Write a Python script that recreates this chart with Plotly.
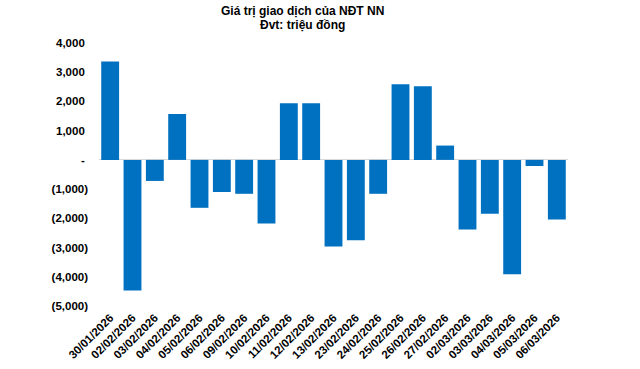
import plotly.graph_objects as go

dates = ["30/01/2026", "02/02/2026", "03/02/2026", "04/02/2026", "05/02/2026",
         "06/02/2026", "09/02/2026", "10/02/2026", "11/02/2026", "12/02/2026",
         "13/02/2026", "23/02/2026", "24/02/2026", "25/02/2026", "26/02/2026",
         "27/02/2026", "02/03/2026", "03/03/2026", "04/03/2026", "05/03/2026",
         "06/03/2026"]
values = [3370, -4470, -720, 1570, -1640, -1100, -1160, -2180, 1940, 1940,
          -2960, -2750, -1160, 2590, 2520, 490, -2380, -1840, -3910, -210, -2040]

tick_vals = [4000, 3000, 2000, 1000, 0, -1000, -2000, -3000, -4000, -5000]
tick_text = ["4,000 ", "3,000 ", "2,000 ", "1,000 ", "- ", "(1,000)", "(2,000)",
             "(3,000)", "(4,000)", "(5,000)"]

title_lines = ["Giá trị giao dịch của NĐT NN", "Đvt: triệu đồng"]

font_family = "Arial, Liberation Sans, sans-serif"

fig = go.Figure(go.Bar(x=dates, y=values, marker_color="#0070C0",
                       marker_line_width=0))

ML, MR, MT, MB = 99, 72, 43, 63
W, H = 640, 369
ph = H - MT - MB
pw = W - ML - MR

def py(pix):
    return (H - MB - pix) / ph

def px(pix):
    return (pix - ML) / pw

fig.update_layout(
    width=W, height=H,
    margin=dict(l=ML, r=MR, t=MT, b=MB),
    paper_bgcolor="white", plot_bgcolor="white",
    bargap=0.2,
    showlegend=False,
)
for txt, ypix in zip(title_lines, [11, 25]):
    fig.add_annotation(text=txt, xref="paper", yref="paper", x=px(302), y=py(ypix),
                       xanchor="center", yanchor="middle", showarrow=False,
                       font=dict(family=font_family, size=12, color="black", weight="bold"))

fig.update_xaxes(type="category", tickangle=-45, showgrid=False, showline=False,
                 ticks="", automargin=False, ticklabelstandoff=2,
                 tickfont=dict(family=font_family, size=11.5, color="black", weight="bold"))
fig.update_yaxes(range=[-5000, 4000], tickvals=tick_vals, ticktext=tick_text,
                 showgrid=False, zeroline=True, zerolinecolor="#d9d9d9", zerolinewidth=1,
                 ticks="", ticklabelstandoff=10, automargin=False,
                 tickfont=dict(family=font_family, size=11.5, color="black", weight="bold"))

fig.write_html("out.html", config={"displayModeBar": False},
               post_script="document.body.style.margin='0';document.body.style.overflow='hidden';")
